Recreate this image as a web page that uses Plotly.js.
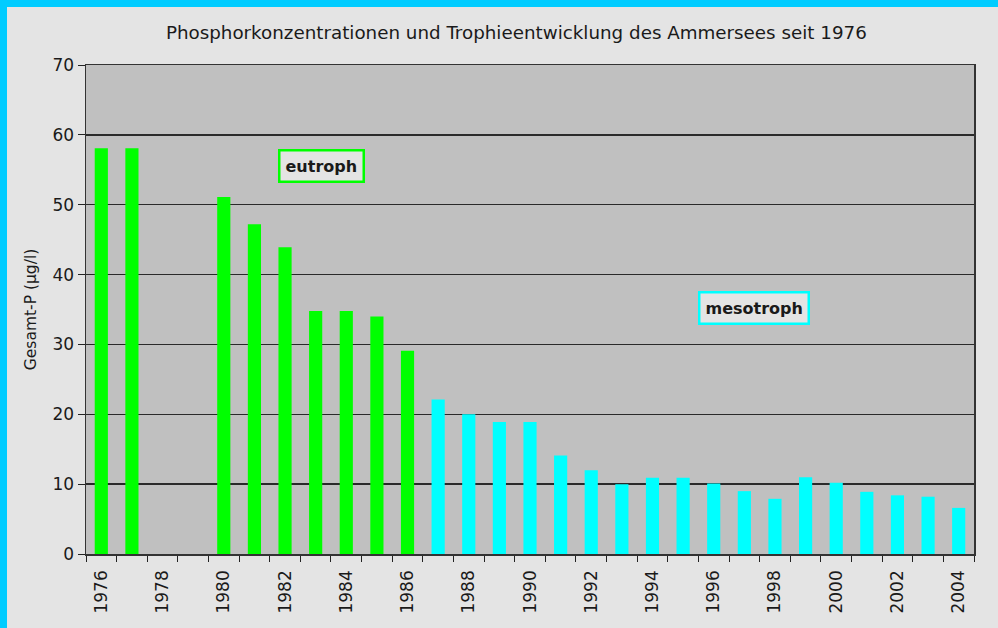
<!DOCTYPE html>
<html>
<head>
<meta charset="utf-8">
<script src="https://cdn.plot.ly/plotly-3.0.1.min.js"></script>
<style>
  html, body { margin: 0; padding: 0; background: #E4E4E4; }
  #wrap { width: 991px; height: 621px; border-top: 7px solid #00CCFF; border-left: 7px solid #00CCFF; background: #E4E4E4; }
  #chart { width: 991px; height: 621px; }
</style>
</head>
<body>
<div id="wrap"><div id="chart"></div></div>
<script>
const years = [1976,1977,1978,1979,1980,1981,1982,1983,1984,1985,1986,1987,1988,1989,1990,1991,1992,1993,1994,1995,1996,1997,1998,1999,2000,2001,2002,2003,2004];
const gesamtP = [58.1,58.1,null,null,51.1,47.2,43.9,34.8,34.8,34.0,29.1,22.1,20.0,18.9,18.9,14.1,12.0,10.0,10.9,10.9,10.1,9.0,7.9,11.0,10.2,8.9,8.4,8.2,6.6];
const lastEutrophYear = 1986;
const tickYears = [1976,1978,1980,1982,1984,1986,1988,1990,1992,1994,1996,1998,2000,2002,2004];
const yTicks = [0,10,20,30,40,50,60,70];

const colors = years.map(y => y <= lastEutrophYear ? '#00FF00' : '#00FFFF');

const trace = {
  type: 'bar',
  x: years,
  y: gesamtP,
  width: 0.43,
  marker: { color: colors, line: { width: 0 } },
  hoverinfo: 'x+y'
};

const font = 'DejaVu Sans, sans-serif';
const layout = {
  width: 991, height: 621,
  margin: { l: 79, r: 24, t: 58, b: 74 },
  paper_bgcolor: '#E4E4E4',
  plot_bgcolor: '#C0C0C0',
  showlegend: false,
  title: {
    text: 'Phosphorkonzentrationen und Trophieentwicklung des Ammersees seit 1976',
    font: { family: font, size: 18.3, color: '#1a1a1a' },
    x: 0.514, xref: 'container', xanchor: 'center',
    y: 1 - 26/621, yref: 'container', yanchor: 'middle'
  },
  xaxis: {
    type: 'linear',
    range: [1975.5, 2004.5],
    tickmode: 'array',
    tickvals: tickYears,
    ticktext: tickYears.map(String),
    tickangle: -90,
    ticks: '',
    ticklabelstandoff: 8,
    minor: { tickmode: 'linear', tick0: 1975.5, dtick: 1, ticks: 'outside', ticklen: 6, tickcolor: '#222', tickwidth: 1, showgrid: false },
    tickfont: { family: font, size: 17, color: '#1a1a1a' },
    showgrid: false,
    zeroline: false,
    showline: true, linecolor: '#333', linewidth: 1.5, mirror: true,
    fixedrange: true
  },
  yaxis: {
    range: [0, 70],
    tickmode: 'array',
    tickvals: yTicks,
    ticks: 'outside', ticklen: 7, tickcolor: '#222',
    tickfont: { family: font, size: 17, color: '#1a1a1a' },
    showgrid: true, gridcolor: '#2a2a2a', gridwidth: 1.5,
    zeroline: false,
    showline: true, linecolor: '#333', linewidth: 1.5, mirror: true,
    title: { text: 'Gesamt-P (µg/l)', font: { family: font, size: 15.5, color: '#1a1a1a' }, standoff: 12 },
    fixedrange: true
  },
  annotations: [
    { text: '<b>eutroph</b>', xref: 'x', yref: 'y', x: 1983.2, y: 55.5, showarrow: false,
      font: { family: font, size: 16, color: '#1a1a1a' }, bgcolor: '#E4E4E4', bordercolor: '#00FF00', borderwidth: 2.5, borderpad: 5 },
    { text: '<b>mesotroph</b>', xref: 'x', yref: 'y', x: 1997.3, y: 35.2, showarrow: false,
      font: { family: font, size: 16, color: '#1a1a1a' }, bgcolor: '#E4E4E4', bordercolor: '#00FFFF', borderwidth: 2.5, borderpad: 5 }
  ]
};

Plotly.newPlot('chart', [trace], layout, { displayModeBar: false, staticPlot: true });
</script>
</body>
</html>
